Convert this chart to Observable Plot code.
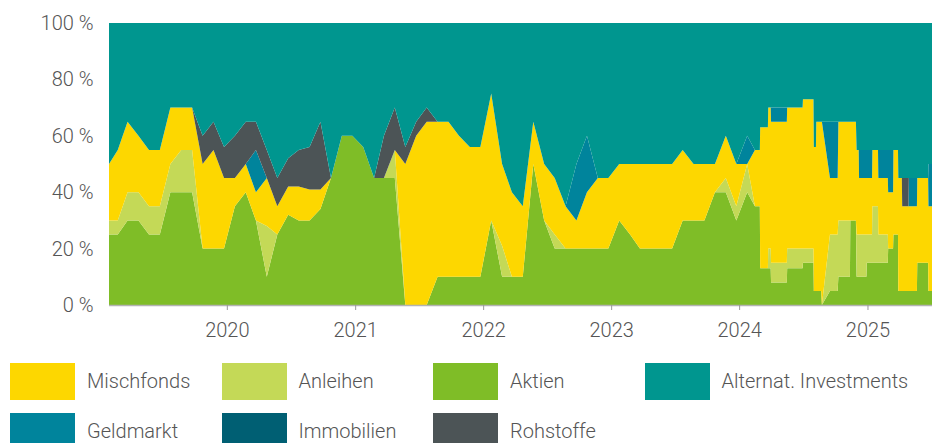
<!DOCTYPE html>
<html>
<head>
<meta charset="utf-8">
<script src="https://cdn.jsdelivr.net/npm/d3@7"></script>
<script src="https://cdn.jsdelivr.net/npm/@observablehq/plot@0.6"></script>
<style>
  body { margin: 0; background: #fff; font-family: Roboto, "Noto Sans", sans-serif; font-weight: 300; color: #555; }
  #chart { position: relative; width: 932px; height: 443px; }
  .leg { position: absolute; display: flex; align-items: center; font-size: 20px; color: #555; white-space: nowrap; }
  .sw { width: 65px; height: 37px; margin-right: 12px; flex: none; }
</style>
</head>
<body>
<div id="chart"></div>
<script>
// ---- data (percent of portfolio) ----
const dates = [
  "2019-01-30","2019-02-24","2019-03-24","2019-04-24","2019-05-24","2019-06-24","2019-07-24","2019-08-24","2019-09-24","2019-10-24","2019-11-24","2019-12-24",
  "2020-01-24","2020-02-24","2020-03-24","2020-04-24","2020-05-24","2020-06-24","2020-07-24","2020-08-24","2020-09-24","2020-10-24","2020-11-24","2020-12-24",
  "2021-01-24","2021-02-24","2021-03-24","2021-04-24","2021-05-24","2021-06-24","2021-07-24","2021-08-24","2021-09-24","2021-10-24","2021-11-24","2021-12-24",
  "2022-01-24","2022-02-24","2022-03-24","2022-04-24","2022-05-24","2022-06-24","2022-07-24","2022-08-24","2022-09-24","2022-10-24","2022-11-24","2022-12-24",
  "2023-01-24","2023-02-24","2023-03-24","2023-04-24","2023-05-24","2023-06-24","2023-07-24","2023-08-24","2023-09-24","2023-10-24","2023-11-24","2023-12-24",
  "2024-01-24","2024-02-15","2024-02-29","2024-03-01","2024-03-23","2024-03-24","2024-03-31","2024-04-01","2024-05-16","2024-05-17","2024-06-30",
  "2024-07-01","2024-07-31","2024-08-01","2024-08-07","2024-08-08","2024-08-22","2024-08-24","2024-09-16","2024-10-08","2024-10-10","2024-11-12",
  "2024-11-13","2024-11-29","2024-12-01","2024-12-07","2024-12-08","2024-12-29","2024-12-30","2025-01-14","2025-01-15","2025-01-31","2025-02-01",
  "2025-02-28","2025-03-01","2025-03-15","2025-03-16","2025-03-29","2025-03-30","2025-04-09","2025-04-10","2025-04-28","2025-04-29","2025-05-22",
  "2025-05-23","2025-06-23","2025-06-24","2025-07-04"
];
const aktien = [
  25,25,30,30,25,25,40,40,40,20,20,20,
  35,40,30,10,25,32,30,30,34,45,60,60,
  56,45,45,45,0,0,0,10,10,10,10,10,
  30,10,10,10,50,30,20,20,20,20,20,20,
  30,25,20,20,20,20,30,30,30,40,40,30,
  40,35,35,13,13,13,13,8,8,13,13,
  15,15,5,5,5,5,0,5,5,10,10,
  30,30,10,10,10,10,15,15,15,15,15,
  15,20,20,25,25,5,5,5,5,5,5,
  15,15,5,5
];
const anleihen = [
  5,5,10,10,10,10,10,15,15,0,0,0,
  0,0,0,18,0,0,0,0,0,0,0,0,
  0,0,0,10,0,0,0,0,0,0,0,0,
  0,11,0,0,0,0,5,0,0,0,0,0,
  0,0,0,0,0,0,0,0,0,0,5,5,
  10,0,0,0,0,7,7,7,7,7,7,
  5,5,0,0,0,0,0,20,20,20,20,
  0,0,15,15,15,15,10,10,20,20,10,
  10,0,0,0,0,0,0,0,0,0,0,
  0,0,0,0
];
const mischfonds = [
  20,25,25,20,20,20,20,15,15,30,35,25,
  10,10,10,17,10,10,12,11,7,0,0,0,
  0,0,0,0,50,60,65,55,55,50,46,46,
  45,29,30,25,15,20,20,15,10,20,25,25,
  20,25,30,30,30,30,25,20,20,10,15,15,
  0,20,20,50,50,50,50,50,50,50,50,
  53,53,51,51,60,60,65,20,20,35,35,
  35,35,30,30,20,20,20,20,20,20,20,
  20,20,20,30,30,40,40,30,30,30,30,
  30,30,30,30
];
const geldmarkt = [
  0,0,0,0,0,0,0,0,0,0,0,0,
  0,0,15,0,0,0,0,0,0,0,0,0,
  0,0,0,0,0,0,0,0,0,0,0,0,
  0,0,0,0,0,0,0,0,20,20,0,0,
  0,0,0,0,0,0,0,0,0,0,0,0,
  10,0,0,0,0,0,0,5,5,0,0,
  0,0,0,0,0,0,0,20,20,0,0,
  0,0,0,0,10,10,10,10,0,0,10,
  10,15,15,0,0,0,0,0,0,10,10,
  0,0,15,15
];
const immobilien = [
  0,0,0,0,0,0,0,0,0,0,0,0,
  0,0,0,0,0,0,0,0,0,0,0,0,
  0,0,0,0,0,0,0,0,0,0,0,0,
  0,0,0,0,0,0,0,0,0,0,0,0,
  0,0,0,0,0,0,0,0,0,0,0,0,
  0,0,0,0,0,0,0,0,0,0,0,
  0,0,0,0,0,0,0,0,0,0,0,
  0,0,0,0,0,0,0,0,0,0,0,
  0,0,0,0,0,0,0,0,0,0,0,
  0,0,0,0
];
const rohstoffe = [
  0,0,0,0,0,0,0,0,0,10,10,11,
  15,15,10,10,10,10,13,15,24,0,0,0,
  0,0,15,15,6,5,5,0,0,0,0,0,
  0,0,0,0,0,0,0,0,0,0,0,0,
  0,0,0,0,0,0,0,0,0,0,0,0,
  0,0,0,0,0,0,0,0,0,0,0,
  0,0,0,0,0,0,0,0,0,0,0,
  0,0,0,0,0,0,0,0,0,0,0,
  0,0,0,0,0,0,0,10,10,0,0,
  0,0,0,0
];
const alternativ = [
  50,45,35,40,45,45,30,30,30,40,35,44,
  40,35,35,45,55,48,45,44,35,55,40,40,
  44,55,40,30,44,35,30,35,35,40,44,44,
  25,50,60,65,35,50,55,65,50,40,55,55,
  50,50,50,50,50,50,45,50,50,50,40,50,
  40,45,45,37,37,30,30,30,30,30,30,
  27,27,44,44,35,35,35,35,35,35,35,
  35,35,45,45,45,45,45,45,45,45,45,
  45,45,45,45,45,55,55,55,55,55,55,
  55,55,50,50
];

const seriesNames = ["Aktien","Anleihen","Mischfonds","Geldmarkt","Immobilien","Rohstoffe","Alternat. Investments"];
const seriesValues = [aktien, anleihen, mischfonds, geldmarkt, immobilien, rohstoffe, alternativ];
const seriesColors = ["#7fbd27","#c4d957","#fdd700","#00849c","#005f73","#4c5456","#00968f"];
const legendOrder = ["Mischfonds","Anleihen","Aktien","Alternat. Investments","Geldmarkt","Immobilien","Rohstoffe"];
const yTicks = [0,20,40,60,80,100];
const xTickYears = [2020,2021,2022,2023,2024,2025];

// ---- tidy table ----
const parse = d3.utcParse("%Y-%m-%d");
const table = [];
dates.forEach((d, i) => {
  seriesNames.forEach((s, j) => table.push({date: parse(d), series: s, value: seriesValues[j][i]}));
});

const chart = Plot.plot({
  width: 932,
  height: 345,
  marginLeft: 109,
  marginRight: 0,
  marginTop: 23,
  marginBottom: 40,
  style: {fontFamily: "Roboto, 'Noto Sans', sans-serif", fontSize: "20px", fontWeight: 300, color: "#555", background: "#fff", overflow: "visible"},
  x: {type: "utc", domain: [parse(dates[0]), parse(dates[dates.length - 1])]},
  y: {domain: [0, 100], label: null},
  color: {domain: seriesNames, range: seriesColors},
  marks: [
    Plot.areaY(table, {x: "date", y: "value", fill: "series", order: seriesNames, curve: "linear"}),
    Plot.ruleY([0], {stroke: "#b3b3b3", strokeWidth: 1.5}),
    Plot.axisY({ticks: yTicks, tickSize: 0, tickPadding: 16, tickFormat: d => `${d} %`, label: null, fontSize: 20}),
    Plot.axisX({ticks: xTickYears.map(y => new Date(Date.UTC(y, 0, 1))), tickFormat: d3.utcFormat("%Y"), tickSize: 5, tickPadding: 12, stroke: "#999", label: null, fontSize: 20})
  ]
});

const root = document.getElementById("chart");
root.appendChild(chart);

// ---- legend (HTML, below the SVG) ----
legendOrder.forEach((name, k) => {
  const row = Math.floor(k / 4), col = k % 4;
  const item = document.createElement("div");
  item.className = "leg";
  item.style.left = (10 + col * 211.5) + "px";
  item.style.top = (362.5 + row * 50) + "px";
  const sw = document.createElement("div");
  sw.className = "sw";
  sw.style.background = seriesColors[seriesNames.indexOf(name)];
  const label = document.createElement("span");
  label.textContent = name;
  item.appendChild(sw);
  item.appendChild(label);
  root.appendChild(item);
});
</script>
</body>
</html>
